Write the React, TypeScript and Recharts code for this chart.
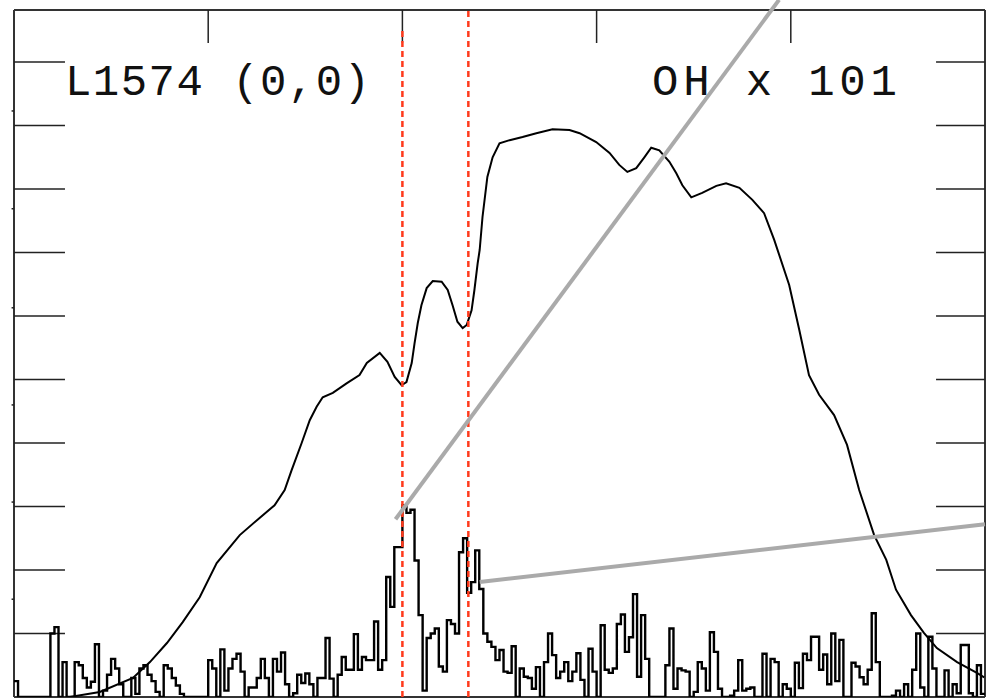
import React from 'react';
import { LineChart, Line, XAxis, YAxis, ReferenceLine } from 'recharts';

// channel grid: 0..240, velocity axis ticks on top every 48 channels
const topTicks = [48, 96, 144, 192];
const yTicks = [1, 2, 3, 4, 5, 6, 7, 8, 9, 10];
const leftMinorTicks = [1.54, 3.07, 4.6, 6.13, 7.69, 9.23];
const redMarks = [96, 112.3];

// noisy spectrum (per channel)
const noise = [
  0.25, 0, 0, 0, 0, 0, 0, 0, 0, 1.0,
  1.1, 0, 0.55, 0, 0, 0.55, 0.5, 0.3, 0.15, 0.24,
  0.83, 0, 0.1, 0.35, 0.6, 0.45, 0.2, 0, 0, 0.3,
  0.05, 0.45, 0.5, 0.35, 0.25, 0.08, 0, 0.5, 0.45, 0.3,
  0.18, 0.05, 0, 0, 0, 0, 0, 0, 0.58, 0.45,
  0, 0.75, 0.1, 0.45, 0.6, 0.68, 0.4, 0, 0.15, 0.15,
  0.3, 0.6, 0.3, 0, 0.6, 0.4, 0.7, 0.2, 0, 0.06,
  0.35, 0.22, 0.37, 0.2, 0, 0.3, 0.3, 0.93, 0.29, 0,
  0.35, 0.63, 0.43, 0.43, 0.99, 0.43, 0.63, 0.58, 0.58, 1.19,
  0.43, 0.58, 1.89, 1.42, 2.36, 2.36, 3.02, 2.9, 2.95, 2.15,
  1.29, 0.1, 0.93, 1.0, 1.08, 0.48, 0.4, 1.21, 1.15, 1.0,
  2.28, 2.5, 1.64, 1.81, 2.31, 1.7, 1.0, 0.87, 0.79, 0.58,
  0.74, 0.4, 0.38, 0.8, 0, 0.45, 0.32, 0.3, 0.13, 0.47,
  0, 0.55, 1.0, 0.66, 0.3, 0.4, 0.55, 0.25, 0.4, 0.69,
  0.27, 0, 0.76, 0.4, 0, 1.13, 0.43, 0.38, 0.45, 1.15,
  1.3, 0.71, 0.94, 1.62, 0.32, 1.29, 0.6, 0, 0, 0,
  0, 0.5, 1.08, 0.13, 0.45, 0.42, 0.4, 0, 0.08, 0.55,
  0.45, 0.1, 1.02, 0.71, 0.13, 0, 0, 0.02, 0.1, 0.58,
  0.1, 0.13, 0.15, 0, 0, 0.68, 0, 0.6, 0.55, 0,
  0.2, 0.13, 0, 0.54, 0.14, 0.68, 0.58, 0.95, 0.95, 0.43,
  0.67, 0.2, 1.0, 0.25, 0.9, 0, 0, 0.54, 0.48, 0.31,
  0.2, 0.43, 1.32, 0.55, 0, 0, 0, 0.02, 0.1, 0,
  0.2, 0, 0.43, 1.0, 0.15, 0, 0.95, 0.45, 0, 0,
  0.42, 0, 0.2, 0.06, 0.82, 0.82, 0.06, 0, 0.5, 0.05,
];

// OH x 101 profile
const ohX = [
  13.8, 21.2, 29.4, 33.6, 37.8, 41.7, 45.9, 50.1, 55.8, 60.7, 64.4, 66.9, 68.6, 71.1, 73.1, 74.8,
  76.3, 78.8, 82.2, 85.4, 87.2, 90.4, 92.3, 94.1, 95.8, 97.0, 98.3, 99.0, 99.8, 100.7, 102.0, 103.5,
  105.7, 107.2, 108.4, 109.6, 110.9, 111.9, 113.1, 113.8, 114.6, 115.1, 115.8, 117.0, 118.3, 120.0,
  122.5, 125.7, 129.1, 133.1, 137.3, 139.8, 143.9, 147.2, 149.6, 151.6, 153.8, 155.8, 157.5, 159.5,
  162.0, 163.7, 165.2, 167.4, 170.1, 173.6, 176.0, 179.3, 182.5, 185.4, 187.9, 191.6, 194.1, 196.5,
  199.0, 202.7, 205.9, 208.9, 212.6, 215.6, 218.0, 221.7, 224.9, 228.1, 233.1, 238.0, 239.8,
];
const ohY = [
  0.0, 0.08, 0.3, 0.55, 0.85, 1.18, 1.57, 2.11, 2.55, 2.82, 3.02, 3.26, 3.57, 4.0, 4.36, 4.57,
  4.72, 4.79, 4.94, 5.07, 5.26, 5.42, 5.28, 5.04, 4.91, 4.96, 5.26, 5.57, 5.89, 6.17, 6.44, 6.55,
  6.54, 6.41, 6.17, 5.91, 5.81, 5.86, 6.09, 6.41, 6.83, 7.04, 7.56, 8.19, 8.5, 8.72,
  8.77, 8.82, 8.88, 8.94, 8.93, 8.88, 8.74, 8.57, 8.38, 8.27, 8.33, 8.5, 8.65, 8.61,
  8.43, 8.25, 8.06, 7.87, 7.94, 8.05, 8.09, 8.02, 7.83, 7.62, 7.2, 6.49, 5.78, 5.07,
  4.76, 4.44, 3.97, 3.26, 2.55, 2.16, 1.69, 1.29, 1.01, 0.77, 0.55, 0.38, 0.31,
];

const X_MAX = 240;
const Y_MAX = 10.82;

const noiseData = noise.map((v, i) => ({ ch: i, t: v }));
noiseData.push({ ch: X_MAX, t: noise[noise.length - 1] });
const ohData = ohX.map((x, i) => ({ ch: x, oh: ohY[i] }));

const frame = '#333';
const red = '#ff3a1c';

export default function App() {
  return (
    <div style={{ position: 'absolute', left: 0, top: 0, width: 986, height: 699, background: '#fff' }}>
      <LineChart width={986} height={699} data={noiseData} margin={{ top: 10, right: 1, bottom: 2, left: 14 }}>
        <XAxis type="number" dataKey="ch" domain={[0, X_MAX]} hide allowDataOverflow />
        <YAxis type="number" domain={[0, Y_MAX]} hide allowDataOverflow />

        <ReferenceLine segment={[{ x: 0, y: 0 }, { x: 0, y: Y_MAX }]} stroke={frame} strokeWidth={2} />
        <ReferenceLine segment={[{ x: X_MAX, y: 0 }, { x: X_MAX, y: Y_MAX }]} stroke={frame} strokeWidth={2} />
        <ReferenceLine segment={[{ x: 0, y: Y_MAX }, { x: X_MAX, y: Y_MAX }]} stroke={frame} strokeWidth={2} />
        <ReferenceLine segment={[{ x: 0, y: 0 }, { x: X_MAX, y: 0 }]} stroke={frame} strokeWidth={2} />

        {topTicks.map(t => (
          <ReferenceLine key={`tt${t}`} segment={[{ x: t, y: Y_MAX }, { x: t, y: Y_MAX - 0.52 }]} stroke="#222" strokeWidth={1.5} />
        ))}
        {yTicks.map(t => (
          <ReferenceLine key={`lt${t}`} segment={[{ x: 0, y: t }, { x: 12.6, y: t }]} stroke="#222" strokeWidth={1.5} />
        ))}
        {yTicks.map(t => (
          <ReferenceLine key={`rt${t}`} segment={[{ x: 227.9, y: t }, { x: X_MAX, y: t }]} stroke="#222" strokeWidth={1.5} />
        ))}
        {leftMinorTicks.map(t => (
          <ReferenceLine key={`mt${t}`} segment={[{ x: -0.6, y: t }, { x: 0, y: t }]} stroke="#222" strokeWidth={1.5} ifOverflow="visible" />
        ))}

        <Line data={ohData} dataKey="oh" type="linear" stroke="#000" strokeWidth={2} dot={false} isAnimationActive={false} />
        <Line dataKey="t" type="stepAfter" stroke="#000" strokeWidth={2.4} dot={false} isAnimationActive={false} />

        <ReferenceLine segment={[{ x: redMarks[0], y: 0 }, { x: redMarks[0], y: 10.5 }]} stroke={red} strokeWidth={2.5} strokeDasharray="6 4" />
        <ReferenceLine segment={[{ x: redMarks[1], y: 0 }, { x: redMarks[1], y: Y_MAX }]} stroke={red} strokeWidth={2.5} strokeDasharray="6 4" />

        <ReferenceLine segment={[{ x: 94.3, y: 2.8 }, { x: 189.1, y: 10.98 }]} stroke="#aaaaaa" strokeWidth={4} ifOverflow="visible" />
        <ReferenceLine segment={[{ x: 115.1, y: 1.81 }, { x: 240, y: 2.72 }]} stroke="#aaaaaa" strokeWidth={4} ifOverflow="visible" />
      </LineChart>
      <svg width={986} height={699} style={{ position: 'absolute', left: 0, top: 0, pointerEvents: 'none' }}>
        <text x={65} y={95} fontFamily="'Liberation Mono', monospace" fontSize={44} fill="#111" textLength={305} lengthAdjust="spacing">L1574 (0,0)</text>
        <text x={652} y={95} fontFamily="'Liberation Mono', monospace" fontSize={44} fill="#111" textLength={245} lengthAdjust="spacing">OH x 101</text>
      </svg>
    </div>
  );
}
